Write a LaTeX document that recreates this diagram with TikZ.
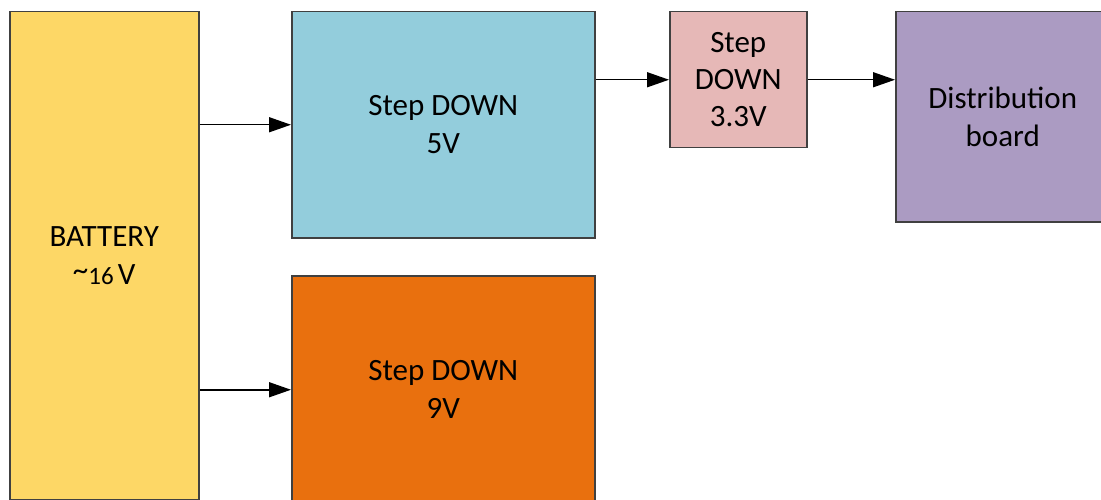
\documentclass[tikz,border=0pt]{standalone}
\usepackage{fontspec}
\setmainfont{Carlito}
\usetikzlibrary{arrows.meta}

\definecolor{battyellow}{HTML}{FDD766}
\definecolor{stepblue}{HTML}{93CDDC}
\definecolor{steporange}{HTML}{E9700E}
\definecolor{steppink}{HTML}{E6B8B7}
\definecolor{distpurple}{HTML}{AB9BC2}
\definecolor{blockborder}{HTML}{404040}

\tikzset{
    block/.style={draw=blockborder, line width=1.5pt, inner sep=0pt, anchor=north west,
        align=center, font=\fontsize{31}{38}\selectfont},
    feed/.style={-{Triangle[length=22pt,width=15pt]}, line width=1.5pt, black}
}

\begin{document}
\begin{tikzpicture}[x=1pt, y=-1pt]
    % Page size as in the reference
    \useasboundingbox (0,0) rectangle (1101,500);
    \clip (0,0) rectangle (1101,500);

    % Source
    \node[block, fill=battyellow, minimum width=189pt, minimum height=488pt] (battery) at (9,11)
        {BATTERY\\{\fontsize{25}{38}\selectfont\raisebox{0.35ex}{\fontsize{31}{38}\selectfont\textasciitilde}16\,}V};

    % Converters
    \node[block, fill=stepblue, minimum width=303pt, minimum height=226pt] (step5) at (291,11) {Step DOWN\\5V};
    \node[block, fill=steporange, minimum width=303pt, minimum height=228pt] (step9) at (291,275) {Step DOWN\\9V};
    \node[block, fill=steppink, minimum width=137pt, minimum height=136pt,
        font=\fontsize{31}{37}\selectfont] (step33) at (669,11) {Step\\DOWN\\3.3V};

    % Load
    \node[block, fill=distpurple, minimum width=214pt, minimum height=210pt] (dist) at (895,11) {Distribution\\board};

    % Connections
    \draw[feed] (battery.east |- step5.west) -- (step5.west);
    \draw[feed] (battery.east |- step9.west) -- (step9.west);
    \draw[feed] (step5.east |- step33.west) -- (step33.west);
    \draw[feed] (step33.east) -- (step33.east -| dist.west);
\end{tikzpicture}
\end{document}
